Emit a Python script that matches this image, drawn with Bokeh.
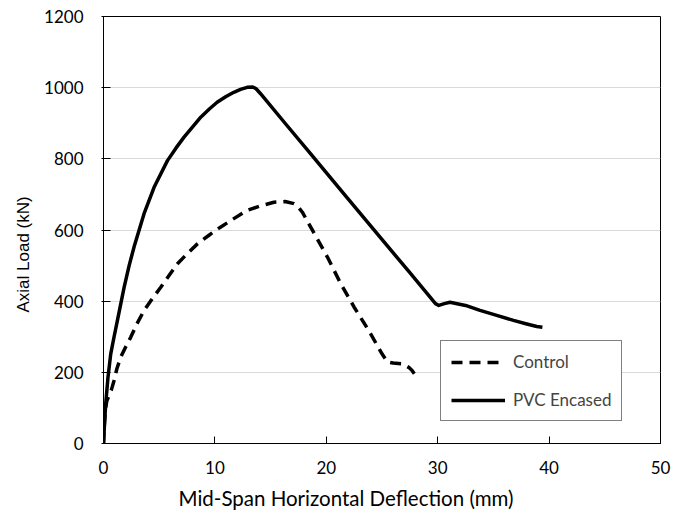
from bokeh.plotting import figure
from bokeh.models import Legend, LegendItem, Title, FixedTicker
from bokeh.embed import file_html
from bokeh.resources import INLINE

# Control (dashed)
control_x = [0, 0.05, 0.15, 0.3, 0.5, 0.7, 0.95, 1.2, 1.55, 2.0, 2.45, 3.0, 3.64,
             4.4, 5.14, 5.9, 6.64, 7.5, 8.43, 9.5, 10.5, 11.7, 12.9, 14.1, 15.3,
             16.3, 17.1, 17.5, 17.85, 18.6, 20.1, 21.3, 22.5, 23.8, 25.0, 25.5,
             26.0, 26.8, 27.4, 27.7, 27.9]
control_y = [0, 40, 90, 120, 135, 150, 177, 210, 243, 272, 299, 336, 374,
             408, 439, 473, 505, 533, 561, 586, 608, 632, 655, 668, 678,
             680, 674, 664, 650, 608, 524, 449, 383, 318, 252, 229,
             226, 224, 214, 205, 196]

# PVC Encased (solid)
pvc_x = [0, 0.1, 0.2, 0.4, 0.65, 0.95, 1.25, 1.85, 2.3, 2.74, 3.2, 3.64, 4.54,
         5.74, 6.5, 7.23, 8.0, 8.73, 9.5, 10.2, 11.0, 11.7, 12.3, 12.9, 13.4,
         13.7, 14.1, 16.3, 18.6, 21.6, 24.9, 27.5, 29.8, 30.1, 30.6, 31.1, 32.5,
         33.8, 35.3, 36.8, 38.0, 38.9, 39.4]
pvc_y = [0, 60, 112, 185, 252, 300, 346, 439, 500, 552, 600, 646, 720,
         795, 830, 861, 890, 917, 940, 959, 975, 987, 995, 1001, 1002,
         997, 983, 900, 814, 701, 577, 480, 393, 388, 393, 397, 388,
         374, 360, 346, 336, 329, 327]

x_ticks = [0, 10, 20, 30, 40, 50]
y_ticks = [0, 200, 400, 600, 800, 1000, 1200]

FONT = "Lato"

p = figure(width=686, height=517, output_backend="svg", toolbar_location=None,
           x_range=(0, 50), y_range=(0, 1200),
           min_border_left=103, min_border_right=26, min_border_top=16,
           min_border_bottom=74)
p.background_fill_color = "white"
p.border_fill_color = "white"
p.outline_line_color = "black"
p.outline_line_width = 1

p.xgrid.grid_line_color = None
p.ygrid.grid_line_color = "#d9d9d9"
p.ygrid.grid_line_width = 1

p.xaxis.ticker = FixedTicker(ticks=x_ticks)
p.yaxis.ticker = FixedTicker(ticks=y_ticks)
for ax in (p.xaxis, p.yaxis):
    ax.axis_line_color = "black"
    ax.major_tick_line_color = "black"
    ax.minor_tick_line_color = None
    ax.major_label_text_font = FONT
    ax.major_label_text_font_size = "17px"
    ax.major_label_text_color = "black"
p.xaxis.major_tick_in = 7
p.xaxis.major_tick_out = 0
p.yaxis.major_tick_in = 7
p.yaxis.major_tick_out = 2
p.xaxis.major_label_standoff = 17
p.yaxis.major_label_standoff = 18

r_ctrl = p.line(control_x, control_y, line_color="black", line_width=3.5,
                line_dash="11 7", line_join="round")
r_pvc = p.line(pvc_x, pvc_y, line_color="black", line_width=3.5,
               line_join="round")

legend = Legend(items=[LegendItem(label="Control", renderers=[r_ctrl]),
                       LegendItem(label="PVC Encased", renderers=[r_pvc])],
                location=(337, 22), orientation="vertical",
                border_line_color="black", border_line_width=1,
                background_fill_color="white", background_fill_alpha=1,
                label_text_font=FONT, label_text_font_size="17px",
                glyph_width=54, glyph_height=20, label_height=20,
                label_standoff=8, spacing=17, padding=10, margin=0)
p.add_layout(legend, "center")

p.add_layout(Title(text="Mid-Span Horizontal Deflection (mm)", align="left",
                   offset=75, text_font=FONT, text_font_size="20.5px",
                   text_font_style="normal", text_color="black", standoff=15),
             "below")
p.add_layout(Title(text="Axial Load (kN)", align="left", offset=131,
                   text_font="Liberation Sans", text_font_size="17px",
                   text_font_style="normal", text_color="black", standoff=18),
             "left")

open("out.html", "w").write(file_html(p, INLINE))
